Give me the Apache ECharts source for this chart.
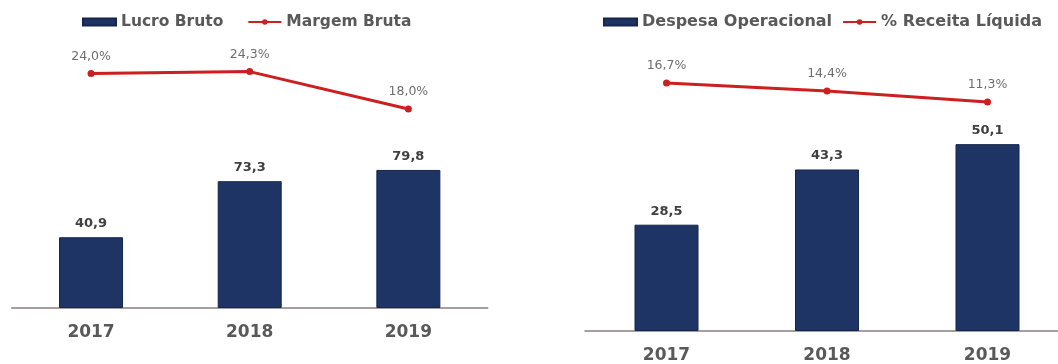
<!DOCTYPE html>
<html>
<head>
<meta charset="utf-8">
<script src="https://cdn.jsdelivr.net/npm/echarts@6/dist/echarts.min.js"></script>
<style>
  html, body { margin: 0; padding: 0; background: #ffffff; }
  #chart { width: 1058px; height: 364px; }
</style>
</head>
<body>
<div id="chart"></div>
<script>
// Categories shared by both panels
const years = ['2017', '2018', '2019'];

// Left panel: gross profit (R$ mi) and gross margin (%)
const lucroBruto = [40.9, 73.3, 79.8];
const margemBruta = [24.0, 24.3, 18.0];

// Right panel: operating expense (R$ mi) and share of net revenue (%)
const despesaOperacional = [28.5, 43.3, 50.1];
const receitaLiquidaPct = [16.7, 14.4, 11.3];

const NAVY = '#1d3464';
const RED = '#cc1f1f';
const TEXT = '#595959';
const AXIS = '#8a8080';
const FONT = 'DejaVu Sans, Verdana, sans-serif';

const fmtNum = v => v.toFixed(1).replace('.', ',');
const fmtPct = v => v.toFixed(1).replace('.', ',') + '%';

const chart = echarts.init(document.getElementById('chart'), null, { renderer: 'canvas' });

const yearLabel = { margin: 16, color: TEXT, fontFamily: FONT, fontWeight: 'bold', fontSize: 17 };

function barXAxis(gridIndex, showLine, boundaryGap) {
  return {
    type: 'category', gridIndex, data: years, boundaryGap,
    axisLine: { show: showLine, lineStyle: { color: AXIS, width: 1.5 } },
    axisTick: { show: false },
    axisLabel: yearLabel
  };
}
function hiddenXAxis(gridIndex, boundaryGap) {
  return { type: 'category', gridIndex, data: years, boundaryGap, show: false };
}
function hiddenYAxis(gridIndex, min, max) {
  return { type: 'value', gridIndex, min, max, show: false, splitLine: { show: false } };
}
function barSeries(name, data, idx) {
  return {
    name, type: 'bar', data, xAxisIndex: idx, yAxisIndex: idx,
    barWidth: 64,
    itemStyle: { color: NAVY, borderColor: '#15264a', borderWidth: 1 },
    label: {
      show: true, position: 'top', distance: 7, formatter: p => fmtNum(p.value),
      color: '#404040', fontFamily: FONT, fontWeight: 'bold', fontSize: 13
    },
    animation: false
  };
}
function lineSeries(name, data, idx) {
  return {
    name, type: 'line', data, xAxisIndex: idx, yAxisIndex: idx,
    symbol: 'circle', symbolSize: 7,
    lineStyle: { color: RED, width: 3 },
    itemStyle: { color: RED },
    label: {
      show: true, position: 'top', distance: 7, formatter: p => fmtPct(p.value),
      color: '#6e6e6e', fontFamily: FONT, fontSize: 12.5
    },
    clip: false,
    animation: false
  };
}

const legendText = { color: TEXT, fontFamily: FONT, fontWeight: 'bold', fontSize: 16 };

chart.setOption({
  backgroundColor: '#ffffff',
  legend: [
    {
      data: [{ name: 'Lucro Bruto', icon: 'rect' }, 'Margem Bruta'], left: 82, top: 14, padding: 0,
      itemWidth: 33, itemHeight: 7, itemGap: 24,
      textStyle: Object.assign({}, legendText, { fontSize: 15.5 })
    },
    {
      data: [{ name: 'Despesa Operacional', icon: 'rect' }, '% Receita Líquida'], left: 603, top: 14, padding: 0,
      itemWidth: 33, itemHeight: 7, itemGap: 10, textStyle: legendText
    }
  ],
  grid: [
    // left panel: bars, line
    { left: 11.7, width: 476, top: 135, height: 173 },
    { left: 11.7, width: 476, top: 37.8, height: 118.6 },
    // right panel: bars and line span the outer category centres
    { left: 666.5, width: 321, top: 107.2, height: 223.8 },
    { left: 666.5, width: 321, top: 71.4, height: 70.4 },
    // right panel baseline running to the edge
    { left: 585, right: 0, top: 107.2, height: 223.8 }
  ],
  xAxis: [
    barXAxis(0, true, true),
    hiddenXAxis(1, true),
    barXAxis(2, false, false),
    hiddenXAxis(3, false),
    {
      type: 'category', gridIndex: 4, data: years,
      axisLine: { show: true, lineStyle: { color: AXIS, width: 1.5 } },
      axisTick: { show: false }, axisLabel: { show: false }
    }
  ],
  yAxis: [
    hiddenYAxis(0, 0, 100),
    hiddenYAxis(1, 10, 30),
    hiddenYAxis(2, 0, 60),
    hiddenYAxis(3, 0, 20),
    hiddenYAxis(4, 0, 60)
  ],
  series: [
    barSeries('Lucro Bruto', lucroBruto, 0),
    lineSeries('Margem Bruta', margemBruta, 1),
    barSeries('Despesa Operacional', despesaOperacional, 2),
    lineSeries('% Receita Líquida', receitaLiquidaPct, 3)
  ]
});
</script>
</body>
</html>
